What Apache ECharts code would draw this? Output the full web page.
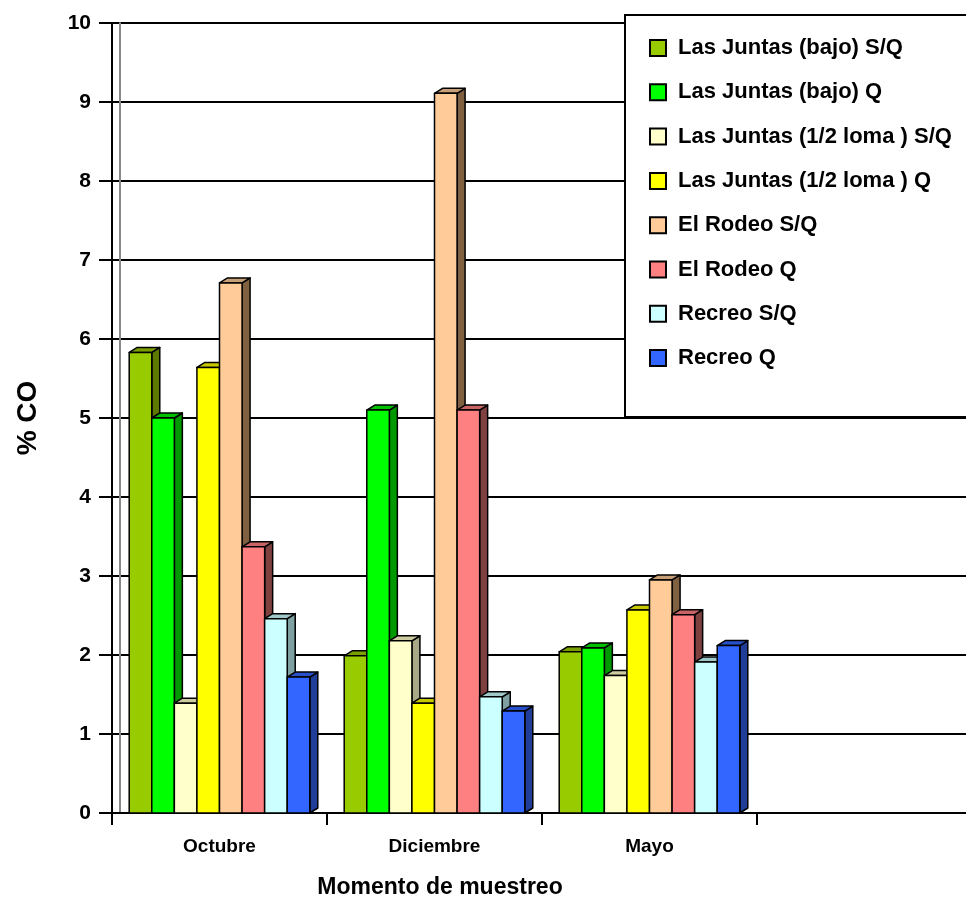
<!DOCTYPE html>
<html>
<head>
<meta charset="utf-8">
<script src="https://cdn.jsdelivr.net/npm/echarts@6/dist/echarts.min.js"></script>
<style>
  html, body { margin: 0; padding: 0; background: #fff; }
  #chart { width: 966px; height: 898px; }
</style>
</head>
<body>
<div id="chart"></div>
<script>
// categories (last one is empty, as in the original)
var meses = ['Octubre', 'Diciembre', 'Mayo', ''];

var nombres = [
    'Las Juntas (bajo) S/Q',
    'Las Juntas (bajo) Q',
    'Las Juntas (1/2 loma ) S/Q',
    'Las Juntas (1/2 loma ) Q',
    'El Rodeo S/Q',
    'El Rodeo Q',
    'Recreo S/Q',
    'Recreo Q'
];

// % CO per site
var juntasBajoSQ = [5.83, 1.99, 2.04];
var juntasBajoQ = [5.00, 5.10, 2.09];
var juntasLomaSQ = [1.39, 2.18, 1.74];
var juntasLomaQ = [5.64, 1.39, 2.57];
var rodeoSQ = [6.71, 9.11, 2.95];
var rodeoQ = [3.37, 5.10, 2.51];
var recreoSQ = [2.46, 1.47, 1.91];
var recreoQ = [1.72, 1.29, 2.12];

var valores = [juntasBajoSQ, juntasBajoQ, juntasLomaSQ, juntasLomaQ, rodeoSQ, rodeoQ, recreoSQ, recreoQ];

var frente = ['#99cc00', '#00ff00', '#ffffcc', '#ffff00', '#ffcc99', '#ff8080', '#ccffff', '#3366ff'];
var lado = ['#5c7a00', '#009900', '#a8a888', '#999900', '#7f6040', '#7f4040', '#7fa0a0', '#1f3d99'];
var arriba = ['#7a9f00', '#00c000', '#cccca0', '#c8c800', '#c8a078', '#c86464', '#a0c8c8', '#2850c8'];

var dom = document.getElementById('chart');
var myChart = echarts.init(dom);

var N = nombres.length;
var DX = 8, DY = -5;

function makeRender(si) {
    return function (params, api) {
        var cat = api.value(0);
        var val = api.value(1);
        var base = api.coord([cat, 0]);
        var top = api.coord([cat, val]);
        var band = api.size([1, 0])[0];
        var bw = band * 0.84 / N;
        var x0 = base[0] - bw * N / 2 + si * bw;
        var x1 = x0 + bw;
        var yt = top[1], yb = base[1];
        var lineStyle = { stroke: '#000', lineWidth: 1.5, lineJoin: 'round' };
        return {
            type: 'group',
            children: [
                {
                    type: 'polygon',
                    shape: { points: [[x1, yt], [x1 + DX, yt + DY], [x1 + DX, yb + DY], [x1, yb]] },
                    style: Object.assign({ fill: lado[si] }, lineStyle)
                },
                {
                    type: 'polygon',
                    shape: { points: [[x0, yt], [x0 + DX, yt + DY], [x1 + DX, yt + DY], [x1, yt]] },
                    style: Object.assign({ fill: arriba[si] }, lineStyle)
                },
                {
                    type: 'rect',
                    shape: { x: x0, y: yt, width: bw, height: yb - yt },
                    style: Object.assign({ fill: frente[si] }, lineStyle)
                }
            ]
        };
    };
}

var series = nombres.map(function (name, si) {
    return {
        name: name,
        type: 'custom',
        renderItem: makeRender(si),
        itemStyle: { color: frente[si], borderColor: '#000', borderWidth: 1.5 },
        encode: { x: 0, y: 1 },
        data: valores[si].map(function (v, ci) { return [ci, v]; })
    };
});

var option = {
    backgroundColor: '#fff',
    animation: false,
    textStyle: { fontFamily: 'Arial, "Liberation Sans", sans-serif', color: '#000' },
    grid: { left: 112, top: 23, width: 860, height: 790, outerBoundsMode: 'none' },
    legend: {
        orient: 'vertical',
        left: 625,
        top: 15,
        padding: [22, 60, 48, 24],
        itemGap: 22.3,
        itemWidth: 16,
        itemHeight: 16,
        icon: 'rect',
        backgroundColor: '#fff',
        borderColor: '#000',
        borderWidth: 2,
        textStyle: { fontSize: 22, fontWeight: 'bold', color: '#000', padding: [0, 0, 0, 7] },
        data: nombres
    },
    xAxis: {
        type: 'category',
        data: meses,
        boundaryGap: true,
        name: 'Momento de muestreo',
        nameLocation: 'middle',
        nameGap: 63,
        nameTextStyle: { fontSize: 23, fontWeight: 'bold', color: '#000', padding: [0, 204, 0, 0] },
        axisLine: { lineStyle: { color: '#000', width: 2 } },
        axisTick: { show: true, interval: 0, length: 12, lineStyle: { color: '#000', width: 2 } },
        axisLabel: { fontSize: 19, fontWeight: 'bold', color: '#000', margin: 24, interval: 0 },
        splitLine: { show: false }
    },
    yAxis: [{
        type: 'value',
        min: 0,
        max: 10,
        interval: 1,
        name: '% CO',
        nameLocation: 'middle',
        nameRotate: 90,
        nameGap: 70,
        nameTextStyle: { fontSize: 28, fontWeight: 'bold', color: '#000' },
        axisLine: { show: true, lineStyle: { color: '#000', width: 2 } },
        axisTick: { show: true, length: 13, lineStyle: { color: '#000', width: 2 } },
        axisLabel: { fontSize: 21, fontWeight: 'bold', color: '#000', margin: 21 },
        splitLine: { show: true, lineStyle: { color: '#000', width: 2 } }
    }, {
        // back wall edge of the 3D plot
        type: 'value',
        position: 'left',
        offset: -8,
        min: 0,
        max: 10,
        interval: 1,
        axisLine: { show: true, lineStyle: { color: '#888', width: 2 } },
        axisTick: { show: false },
        axisLabel: { show: false },
        splitLine: { show: false }
    }],
    series: series
};

if (option && typeof option === 'object') {
    myChart.setOption(option);
}
</script>
</body>
</html>
